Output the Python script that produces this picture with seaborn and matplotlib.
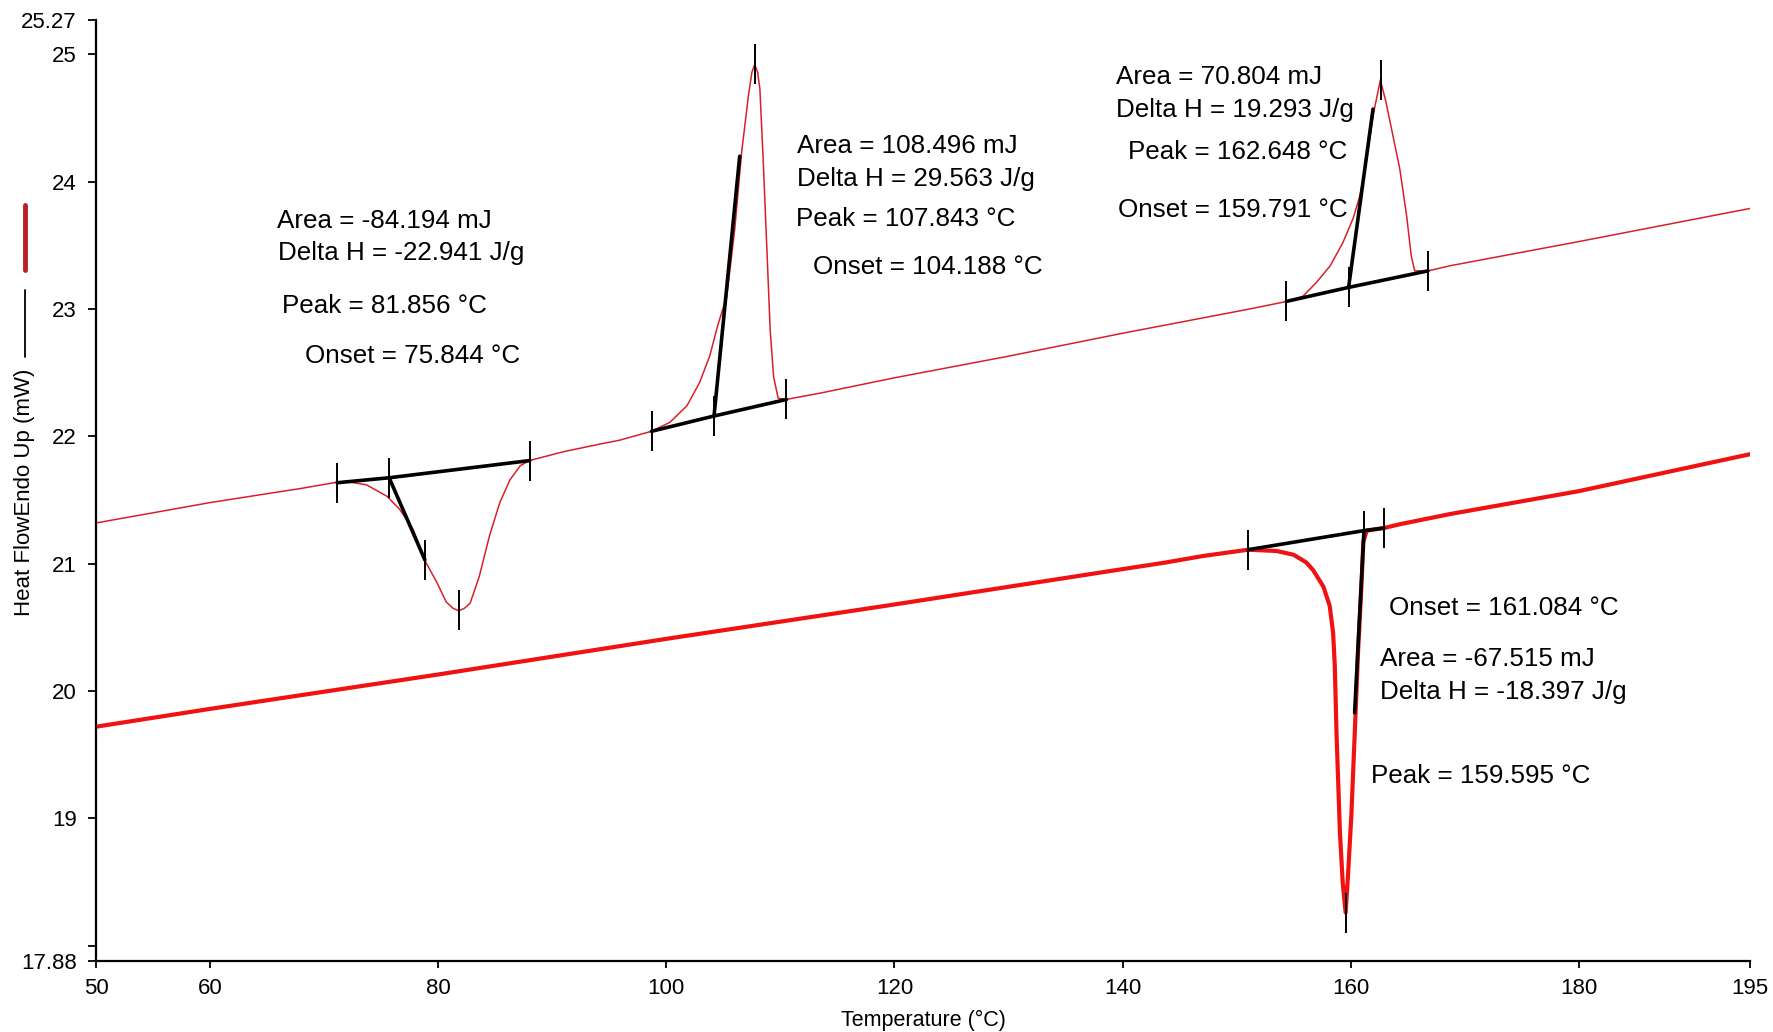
import numpy as np
import pandas as pd
import matplotlib
matplotlib.use("Agg")
import matplotlib.pyplot as plt
from matplotlib.lines import Line2D
import seaborn as sns

# ---------------- data ----------------
upper_T = [50.0, 55.0, 60.0, 65.0, 67.9, 71.1, 72.3, 73.7, 75.5, 76.6, 77.8, 78.8,
           79.9, 80.7, 81.3, 81.8, 82.3, 82.8, 83.6, 84.5, 85.4, 86.3, 87.2, 88.0,
           91.0, 94.2, 95.9, 98.7, 100.3, 101.8, 102.9, 103.8, 104.5, 105.3, 106.0,
           106.6, 107.2, 107.5, 107.75, 108.0, 108.2, 108.5, 108.8, 109.1, 109.4, 109.8, 110.5,
           113.5, 120.0, 130.0, 140.0, 151.1, 154.4, 155.8, 157.0, 158.2, 159.3,
           160.2, 160.8, 161.4, 162.0, 162.6, 163.1, 163.7, 164.3, 164.9, 165.3,
           165.6, 166.8, 168.7, 180.0, 195.0]
upper_HF = [21.32, 21.40, 21.48, 21.55, 21.59, 21.64, 21.64, 21.62, 21.53, 21.43, 21.27, 21.03,
            20.85, 20.70, 20.65, 20.63, 20.65, 20.69, 20.90, 21.22, 21.48, 21.66, 21.77, 21.81,
            21.88, 21.94, 21.97, 22.04, 22.11, 22.24, 22.42, 22.63, 22.87, 23.10, 23.63,
            24.23, 24.68, 24.86, 24.92, 24.86, 24.73, 24.15, 23.50, 22.84, 22.47, 22.30, 22.29,
            22.34, 22.46, 22.63, 22.81, 23.00, 23.06, 23.10, 23.21, 23.34, 23.52,
            23.71, 23.89, 24.18, 24.54, 24.80, 24.62, 24.36, 24.10, 23.73, 23.42,
            23.30, 23.30, 23.34, 23.53, 23.79]

lower_T = [50.0, 60.0, 80.0, 100.0, 120.0, 138.0, 143.8, 147.0, 151.0, 153.5, 155.0,
           156.1, 156.7, 157.6, 158.15, 158.45, 158.6, 158.75, 159.05, 159.3, 159.55,
           159.75, 160.05, 160.35, 160.65, 160.95, 161.1, 161.4, 162.9, 164.3, 168.7,
           180.0, 195.0]
lower_HF = [19.72, 19.86, 20.13, 20.41, 20.68, 20.93, 21.01, 21.06, 21.11, 21.10, 21.07,
            21.01, 20.95, 20.82, 20.67, 20.46, 20.20, 19.67, 18.89, 18.49, 18.26,
            18.54, 19.02, 19.67, 20.33, 20.85, 21.17, 21.26, 21.28, 21.31, 21.39,
            21.57, 21.86]

# analysis constructions (baselines / onset tangents)
base1_T = [71.14, 75.70, 88.03];   base1_HF = [21.636, 21.675, 21.81]
tan1_T = [75.70, 78.83];           tan1_HF = [21.675, 21.03]
base2_T = [98.70, 104.18, 110.53]; base2_HF = [22.04, 22.16, 22.29]
tan2_T = [104.18, 106.43];         tan2_HF = [22.16, 24.20]
base3_T = [154.35, 159.81, 166.77]; base3_HF = [23.06, 23.17, 23.30]
tan3_T = [159.81, 161.95];         tan3_HF = [23.17, 24.57]
base4_T = [151.0, 161.16, 162.9];  base4_HF = [21.11, 21.26, 21.28]
tan4_T = [161.16, 160.34];         tan4_HF = [21.26, 19.83]

# marker ticks (limits, onset, peak)
mark_T = [71.14, 75.70, 78.83, 81.84, 88.03,
          98.70, 104.18, 107.75, 110.53,
          154.35, 159.81, 162.62, 166.77,
          151.0, 161.16, 159.55, 162.9]
mark_HF = [21.636, 21.675, 21.03, 20.64, 21.81,
           22.04, 22.16, 24.925, 22.29,
           23.06, 23.17, 24.80, 23.30,
           21.11, 21.26, 18.26, 21.28]

# annotation texts
ann_texts = ["Area = -84.194 mJ", "Delta H = -22.941 J/g", "Peak = 81.856 °C", "Onset = 75.844 °C",
             "Area = 108.496 mJ", "Delta H = 29.563 J/g", "Peak = 107.843 °C", "Onset = 104.188 °C",
             "Area = 70.804 mJ", "Delta H = 19.293 J/g", "Peak = 162.648 °C", "Onset = 159.791 °C",
             "Onset = 161.084 °C", "Area = -67.515 mJ", "Delta H = -18.397 J/g", "Peak = 159.595 °C"]

x_ticks = [50, 60, 80, 100, 120, 140, 160, 180, 195]
y_ticks = [17.88, 18, 19, 20, 21, 22, 23, 24, 25, 25.27]
y_tick_labels = ["17.88", "", "19", "20", "21", "22", "23", "24", "25", "25.27"]

# ---------------- layout (positions of the annotation texts) ----------------
ann_pos = [(65.83, 23.693), (65.94, 23.444), (66.27, 23.025), (68.31, 22.631),
           (111.45, 24.280), (111.45, 24.022), (111.35, 23.711), (112.83, 23.329),
           (139.39, 24.822), (139.39, 24.565), (140.48, 24.236), (139.60, 23.774),
           (163.37, 20.654), (162.59, 20.254), (162.59, 19.996), (161.79, 19.329)]

# ---------------- style ----------------
sns.set_style("ticks")
plt.rcParams['font.family'] = ['Liberation Sans', 'DejaVu Sans']
plt.rcParams['text.color'] = 'black'
plt.rcParams['axes.labelcolor'] = 'black'
plt.rcParams['xtick.color'] = 'black'
plt.rcParams['ytick.color'] = 'black'
plt.rcParams['axes.edgecolor'] = 'black'

W, H = 1773, 1032
fig = plt.figure(figsize=(W / 100, H / 100), dpi=100)
ax = fig.add_axes([96 / W, 1 - 961 / H, (1750 - 96) / W, (961 - 20) / H])

upper = pd.DataFrame({"T": upper_T, "HF": upper_HF})
lower = pd.DataFrame({"T": lower_T, "HF": lower_HF})

sns.lineplot(data=upper, x="T", y="HF", ax=ax, sort=False, estimator=None,
             color="#d8202a", linewidth=1.1, zorder=2)
sns.lineplot(data=lower, x="T", y="HF", ax=ax, sort=False, estimator=None,
             color="#f01212", linewidth=3.0, zorder=2)

for bx, by in [(base1_T, base1_HF), (tan1_T, tan1_HF), (base2_T, base2_HF), (tan2_T, tan2_HF),
               (base3_T, base3_HF), (tan3_T, tan3_HF), (base4_T, base4_HF), (tan4_T, tan4_HF)]:
    sns.lineplot(x=bx, y=by, ax=ax, sort=False, estimator=None,
                 color="black", linewidth=2.6, zorder=3)

sns.scatterplot(x=mark_T, y=mark_HF, ax=ax, marker="|", s=820, color="black",
                linewidth=1.4, zorder=4)

for txt, (tx, ty) in zip(ann_texts, ann_pos):
    ax.text(tx, ty, txt, fontsize=18.7, ha="left", va="center", color="black")

ax.set_xlim(50, 195)
ax.set_ylim(17.88, 25.27)
ax.set_xticks(x_ticks)
ax.set_xticklabels([str(v) for v in x_ticks])
ax.set_yticks(y_ticks)
ax.set_yticklabels(y_tick_labels)
ax.tick_params(axis="both", labelsize=16, width=1.3)
ax.tick_params(axis="y", length=6, pad=8, direction="out")
ax.tick_params(axis="x", length=5, pad=7, direction="out")
for s in ["left", "bottom"]:
    ax.spines[s].set_linewidth(1.6)
sns.despine(ax=ax)

ax.set_xlabel("Temperature (°C)", fontsize=15.5, labelpad=8)
ax.set_ylabel("Heat FlowEndo Up (mW)", fontsize=16)
ax.yaxis.set_label_coords((35 - 96) / (1750 - 96), (961 - 492) / (961 - 20))

# legend-like marks beside the y label
fig.add_artist(Line2D([25 / W, 25 / W], [1 - 205 / H, 1 - 270 / H], color="#b8202a", linewidth=3.5))
fig.add_artist(Line2D([25 / W, 25 / W], [1 - 290 / H, 1 - 357 / H], color="black", linewidth=1.3))

fig.savefig("out.png", dpi=100)
